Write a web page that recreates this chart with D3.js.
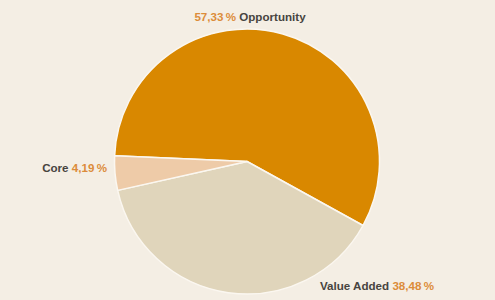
<!DOCTYPE html>
<html>
<head>
<meta charset="utf-8">
<script src="https://cdn.jsdelivr.net/npm/d3@7"></script>
<style>
  html, body { margin: 0; padding: 0; background: #f4eee4; }
  text { font-family: "Liberation Sans", Arial, sans-serif; font-weight: bold; font-size: 11.6px; }
</style>
</head>
<body>
<div id="piechart"></div>
<script>
'use strict';
// slice data, clockwise from the top-left
const labels = ['Opportunity', 'Value Added', 'Core'];
const values = [57.33, 38.48, 4.19];
const colors = ['#d98800', '#e0d5bb', '#eecba8'];

((d3) => {
    const width = 495;
    const height = 300;
    const cx = 247, cy = 161.5;
    const radius = 132.5;
    const fmt = (v) => v.toFixed(2).replace('.', ',') + '\u2009%';

    const svg = d3.select('#piechart')
        .append('svg')
        .attr('width', width)
        .attr('height', height);

    svg.append('rect')
        .attr('width', width)
        .attr('height', height)
        .attr('fill', '#f4eee4');

    const g = svg.append('g')
        .attr('transform', 'translate(' + cx + ',' + cy + ')');

    const start = -87.5 * Math.PI / 180;
    const pie = d3.pie()
        .value((d) => d.value)
        .sort(null)
        .startAngle(start)
        .endAngle(start + 2 * Math.PI);

    const arc = d3.arc()
        .innerRadius(0)
        .outerRadius(radius);

    const dataset = labels.map((l, i) => ({ label: l, value: values[i], color: colors[i] }));

    g.selectAll('path')
        .data(pie(dataset))
        .enter()
        .append('path')
        .attr('d', arc)
        .attr('fill', (d) => d.data.color)
        .attr('stroke', '#fbf7f0')
        .attr('stroke-width', 1.5)
        .attr('stroke-linejoin', 'round');

    // label placement (absolute, relative to the svg)
    const labelPos = {
        'Opportunity': { x: 250, y: 21, anchor: 'middle', pctFirst: true },
        'Value Added': { x: 320, y: 290, anchor: 'start', pctFirst: false },
        'Core':        { x: 107, y: 172, anchor: 'end', pctFirst: false }
    };

    dataset.forEach((d) => {
        const p = labelPos[d.label];
        const t = svg.append('text')
            .attr('x', p.x)
            .attr('y', p.y)
            .attr('text-anchor', p.anchor);
        if (p.pctFirst) {
            t.append('tspan').attr('fill', '#dc8c3a').text(fmt(d.value) + ' ');
            t.append('tspan').attr('fill', '#474440').text(d.label);
        } else {
            t.append('tspan').attr('fill', '#474440').text(d.label + ' ');
            t.append('tspan').attr('fill', '#dc8c3a').text(fmt(d.value));
        }
    });
})(window.d3);
</script>
</body>
</html>
